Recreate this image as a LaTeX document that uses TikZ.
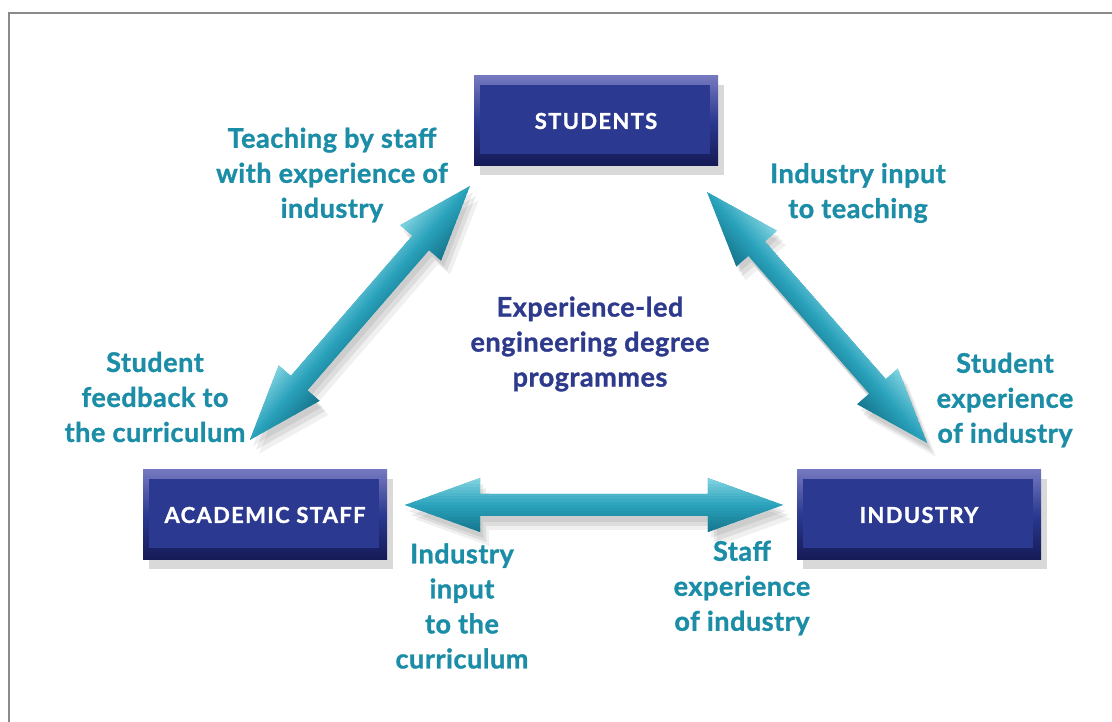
\documentclass[tikz,border=0pt]{standalone}
\usepackage{fontspec}
\setmainfont{Lato}[BoldFeatures={FakeBold=1.2}]
\usetikzlibrary{calc,shadows}

\definecolor{boxBlue}{HTML}{2B3990}
\definecolor{boxLight}{HTML}{7478BE}
\definecolor{boxDark}{HTML}{141A55}
\definecolor{labelTeal}{HTML}{1C8DA7}
\definecolor{centreBlue}{HTML}{2E3A8C}
\definecolor{arrowTop}{HTML}{86D6E3}
\definecolor{arrowMid}{HTML}{2AA2BB}
\definecolor{arrowBot}{HTML}{15738B}
\definecolor{frameGray}{HTML}{8A8A8A}

\newcommand*{\fatArrow}[2]{%
	\coordinate (fa-h1) at ($(#1)!75pt!(#2)$);
	\coordinate (fa-h2) at ($(#2)!75pt!(#1)$);
	\coordinate (fa-1) at ($(fa-h1)!27pt!90:(#2)$);
	\coordinate (fa-2) at ($(fa-h1)!11pt!90:(#2)$);
	\coordinate (fa-3) at ($(fa-h2)!11pt!-90:(#1)$);
	\coordinate (fa-4) at ($(fa-h2)!27pt!-90:(#1)$);
	\coordinate (fa-5) at ($(fa-h2)!27pt!90:(#1)$);
	\coordinate (fa-6) at ($(fa-h2)!11pt!90:(#1)$);
	\coordinate (fa-7) at ($(fa-h1)!11pt!-90:(#2)$);
	\coordinate (fa-8) at ($(fa-h1)!27pt!-90:(#2)$);
	\def\fatArrowPath{(#1) -- (fa-1) -- (fa-2) -- (fa-3) -- (fa-4) -- (#2) -- (fa-5) -- (fa-6) -- (fa-7) -- (fa-8) -- cycle}
	\fill[black, opacity=.07, transform canvas={shift={(3,-6)}}] \fatArrowPath;
	\fill[black, opacity=.08, transform canvas={shift={(6,-10)}}] \fatArrowPath;
	\fill[black, opacity=.06, transform canvas={shift={(9,-14)}}] \fatArrowPath;
	\begin{scope}
		\clip \fatArrowPath;
		\fill[arrowMid] \fatArrowPath;
		\foreach \off in {-28,-25,...,29} {
			\ifnum\off>0
				\pgfmathtruncatemacro{\mix}{100*\off/28}
				\colorlet{stripCol}{arrowTop!\mix!arrowMid}
			\else
				\pgfmathtruncatemacro{\mix}{100*(\off+28)/28}
				\colorlet{stripCol}{arrowMid!\mix!arrowBot}
			\fi
			\draw[stripCol, line width=3.4pt]
				($(#1)!\off pt!90:(#2)$) -- ($(#2)!\off pt!-90:(#1)$);
		}
	\end{scope}
}

\tikzset{
	agent/.style={rectangle, minimum width=244pt, minimum height=90pt,
		top color=boxLight, bottom color=boxDark, middle color=boxBlue,
		drop shadow={shadow xshift=6pt, shadow yshift=-9pt, opacity=.3},
		path picture={\fill[boxBlue] ($(path picture bounding box.south west)+(6,12)$)
			rectangle ($(path picture bounding box.north east)+(-8,-9)$);},
		text=white, font=\addfontfeatures{LetterSpace=6}\bfseries\fontsize{22}{24}\selectfont},
	lbl/.style={text=labelTeal, align=center, inner sep=0pt,
		font=\addfontfeatures{LetterSpace=2}\bfseries\fontsize{27}{35}\selectfont},
	centre/.style={lbl, text=centreBlue}
}

\begin{document}
\begin{tikzpicture}[x=1pt, y=1pt]
		\useasboundingbox (0,0) rectangle (1112,722);
		\draw[frameGray, line width=1.5pt] (9,0) -- (9,709) -- (1112,709);

		\node[agent] (students) at (596,601) {STUDENTS};
		\node[agent] (staff) at (265,207) {ACADEMIC STAFF};
		\node[agent] (industry) at (919,207) {INDUSTRY};

		\coordinate (stu-sw) at ($(students.south west)+(-4,-20)$);
		\coordinate (stu-se) at ($(students.south east)+(-11,-26)$);
		\coordinate (sta-n) at ($(staff.north)+(-15,30)$);
		\coordinate (sta-e) at ($(staff.east)+(18,10)$);
		\coordinate (ind-n) at ($(industry.north)+(8,27)$);
		\coordinate (ind-w) at ($(industry.west)+(-14,10)$);

		\fatArrow{sta-n}{stu-sw}
		\fatArrow{stu-se}{ind-n}
		\fatArrow{sta-e}{ind-w}

		\node[lbl] (teach) at (332,547) {Teaching by staff\\with experience of\\industry};
		\node[lbl] (inputteach) at (858,529) {Industry input\\to teaching};
		\node[centre] (degree) at (590,378) {Experience-led\\engineering degree\\programmes};
		\node[lbl] (feedback) at (155,325) {Student\\feedback to\\the curriculum};
		\node[lbl] (stuexp) at (1005,322) {Student\\experience\\of industry};
		\node[lbl] (inputcurr) at (462,116) {Industry\\input\\to the\\curriculum};
		\node[lbl] (staffexp) at (742,134) {Staff\\experience\\of industry};
\end{tikzpicture}
\end{document}
